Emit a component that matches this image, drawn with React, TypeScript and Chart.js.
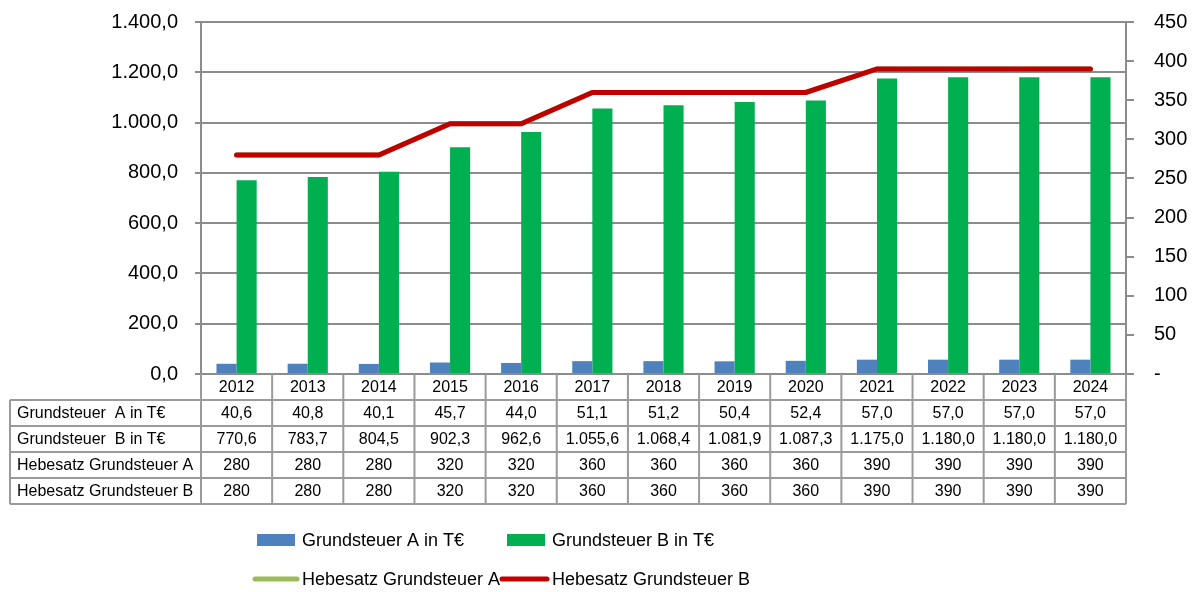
import React, { useEffect, useRef } from "react";
import { Chart, registerables } from "chart.js";

Chart.register(...registerables);

const years = ["2012", "2013", "2014", "2015", "2016", "2017", "2018", "2019", "2020", "2021", "2022", "2023", "2024"];
const grundsteuerA = [40.6, 40.8, 40.1, 45.7, 44.0, 51.1, 51.2, 50.4, 52.4, 57.0, 57.0, 57.0, 57.0];
const grundsteuerB = [770.6, 783.7, 804.5, 902.3, 962.6, 1055.6, 1068.4, 1081.9, 1087.3, 1175.0, 1180.0, 1180.0, 1180.0];
const hebesatzA = [280, 280, 280, 320, 320, 360, 360, 360, 360, 390, 390, 390, 390];
const hebesatzB = [280, 280, 280, 320, 320, 360, 360, 360, 360, 390, 390, 390, 390];

const seriesLabels = ["Grundsteuer A in T€", "Grundsteuer B in T€", "Hebesatz Grundsteuer A", "Hebesatz Grundsteuer B"];
const tableRowLabels = ["Grundsteuer  A in T€", "Grundsteuer  B in T€", "Hebesatz Grundsteuer A", "Hebesatz Grundsteuer B"];
const seriesColors = ["#4F81BD", "#00B050", "#9BBB59", "#C00000"];

const leftMax = 1400;
const leftStep = 200;
const rightMax = 450;
const rightStep = 50;

const FONT = "'Liberation Sans', Arial, sans-serif";

function fmtDe(v: number, decimals: number): string {
  const fixed = v.toFixed(decimals);
  const [intPart, decPart] = fixed.split(".");
  const withSep = intPart.replace(/\B(?=(\d{3})+(?!\d))/g, ".");
  return decPart !== undefined ? withSep + "," + decPart : withSep;
}

const tablePlugin = {
  id: "dataTableAndLegend",
  afterDraw(chart: any) {
    const ctx = chart.ctx as CanvasRenderingContext2D;
    const area = chart.chartArea;
    const xs = chart.scales.x;
    const n = years.length;
    const colW = (area.right - area.left) / n;
    const top = area.bottom;
    const rowH = 26;
    const labelLeft = 10;
    const rows: string[][] = [
      years,
      grundsteuerA.map((v) => fmtDe(v, 1)),
      grundsteuerB.map((v) => fmtDe(v, 1)),
      hebesatzA.map((v) => fmtDe(v, 0)),
      hebesatzB.map((v) => fmtDe(v, 0)),
    ];
    const bottom = top + rows.length * rowH;

    ctx.save();
    ctx.strokeStyle = "#9a9a9a";
    ctx.lineWidth = 2;
    ctx.beginPath();
    for (let r = 1; r <= rows.length; r++) {
      const y = top + r * rowH;
      ctx.moveTo(labelLeft, y);
      ctx.lineTo(area.right, y);
    }
    ctx.moveTo(labelLeft, top + rowH);
    ctx.lineTo(labelLeft, bottom);
    for (let i = 0; i <= n; i++) {
      const x = area.left + i * colW;
      ctx.moveTo(x, top);
      ctx.lineTo(x, bottom);
    }
    ctx.stroke();

    ctx.fillStyle = "#000";
    ctx.font = `16px ${FONT}`;
    ctx.textBaseline = "middle";
    ctx.textAlign = "center";
    rows.forEach((row, r) => {
      const yc = top + r * rowH + rowH / 2 + 1;
      row.forEach((txt, i) => {
        ctx.fillText(txt, xs.getPixelForValue(i), yc);
      });
    });
    ctx.textAlign = "left";
    tableRowLabels.forEach((lbl, r) => {
      const yc = top + (r + 1) * rowH + rowH / 2 + 1;
      ctx.fillText(lbl, 17, yc);
    });

    // Legend
    const cx = chart.width / 2;
    const colX = [cx - 340, cx - 90];
    const rowY = [540, 579];
    ctx.font = `18px ${FONT}`;
    ctx.textBaseline = "middle";
    ctx.textAlign = "left";
    seriesLabels.forEach((lbl, k) => {
      const col = k % 2;
      const row = Math.floor(k / 2);
      const x0 = colX[col];
      const y = rowY[row];
      if (row === 0) {
        ctx.fillStyle = seriesColors[k];
        ctx.fillRect(x0 + 1, y - 6, 38, 12);
      } else {
        ctx.strokeStyle = seriesColors[k];
        ctx.lineWidth = 5;
        ctx.lineCap = "round";
        ctx.beginPath();
        ctx.moveTo(x0 - 1 + (col === 1 ? -3 : 0), y);
        ctx.lineTo(x0 + 41, y);
        ctx.stroke();
      }
      ctx.fillStyle = "#000";
      ctx.fillText(lbl, x0 + 46, y + 1);
    });
    ctx.restore();
  },
};

export default function App() {
  const canvasRef = useRef<HTMLCanvasElement | null>(null);

  useEffect(() => {
    if (!canvasRef.current) return;
    Chart.defaults.color = "#000";
    const chart = new Chart(canvasRef.current, {
      type: "bar",
      data: {
        labels: years,
        datasets: [
          {
            type: "bar",
            label: seriesLabels[0],
            data: grundsteuerA,
            backgroundColor: seriesColors[0],
            yAxisID: "y",
            order: 2,
            categoryPercentage: 0.565,
            barPercentage: 1.0,
          },
          {
            type: "bar",
            label: seriesLabels[1],
            data: grundsteuerB,
            backgroundColor: seriesColors[1],
            yAxisID: "y",
            order: 3,
            categoryPercentage: 0.565,
            barPercentage: 1.0,
          },
          {
            type: "line",
            label: seriesLabels[2],
            data: hebesatzA,
            borderColor: seriesColors[2],
            backgroundColor: seriesColors[2],
            borderWidth: 5,
            pointRadius: 0,
            borderCapStyle: "round",
            yAxisID: "y1",
            order: 1,
          },
          {
            type: "line",
            label: seriesLabels[3],
            data: hebesatzB,
            borderColor: seriesColors[3],
            backgroundColor: seriesColors[3],
            borderWidth: 5,
            pointRadius: 0,
            borderCapStyle: "round",
            yAxisID: "y1",
            order: 0,
          },
        ],
      },
      options: {
        animation: false,
        responsive: false,
        devicePixelRatio: 1,
        layout: { padding: { top: 22, bottom: 218, left: 0, right: 0 } },
        plugins: {
          legend: { display: false },
          tooltip: { enabled: false },
          title: { display: false },
        },
        scales: {
          x: {
            display: false,
            offset: true,
          },
          y: {
            position: "left",
            min: 0,
            max: leftMax,
            ticks: {
              stepSize: leftStep,
              padding: 17,
              color: "#000",
              font: { family: FONT, size: 20 },
              callback: (v: any) => fmtDe(Number(v), 1),
            },
            grid: {
              color: "#8c8c8c",
              lineWidth: 2,
              drawTicks: true,
              tickLength: 6,
            },
            border: { display: true, color: "#8c8c8c", width: 2 },
            afterFit: (s: any) => {
              s.width = 201;
              s.paddingTop = 0;
              s.paddingBottom = 0;
            },
          },
          y1: {
            position: "right",
            min: 0,
            max: rightMax,
            ticks: {
              stepSize: rightStep,
              padding: 20,
              color: "#000",
              font: { family: FONT, size: 20 },
              callback: (v: any) => (Number(v) === 0 ? "-" : String(v)),
            },
            grid: {
              drawOnChartArea: false,
              color: "#8c8c8c",
              lineWidth: 2,
              drawTicks: true,
              tickLength: 8,
            },
            border: { display: true, color: "#8c8c8c", width: 2 },
            afterFit: (s: any) => {
              s.width = 66;
              s.paddingTop = 0;
              s.paddingBottom = 0;
            },
          },
        },
      },
      plugins: [tablePlugin],
    } as any);
    return () => chart.destroy();
  }, []);

  return (
    <div style={{ position: "absolute", left: 0, top: 0, width: 1192, height: 592, background: "#fff" }}>
      <canvas ref={canvasRef} width={1192} height={592} style={{ display: "block" }} />
    </div>
  );
}
